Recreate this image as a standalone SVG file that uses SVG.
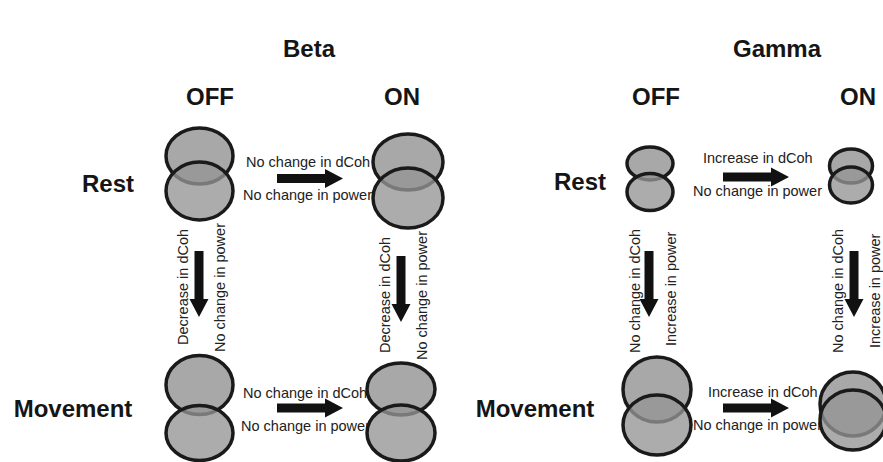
<svg xmlns="http://www.w3.org/2000/svg" width="883" height="462" viewBox="0 0 883 462">
<style>
.title{font-family:"Liberation Sans",Arial,sans-serif;font-weight:bold;font-size:24px;fill:#151515;text-anchor:middle}
.lbl{font-family:"Liberation Sans",Arial,sans-serif;font-size:14.5px;fill:#222}
.top{fill:#a8a8a8;stroke:#1a1a1a;stroke-width:3.5}
.bot{fill:#959595;fill-opacity:0.78;stroke:#1a1a1a;stroke-width:3.5}
.arr{fill:#111}
</style>
<defs>
<path id="blk" d="M0,-4.5 H48 V-9.5 L66,0 L48,9.5 V4.5 H0 Z"/>
</defs>
<rect width="883" height="462" fill="#fff"/>
<g id="headers">
<text class="title" x="309" y="57">Beta</text>
<text class="title" x="777" y="57">Gamma</text>
<text class="title" x="210" y="105">OFF</text>
<text class="title" x="402" y="105">ON</text>
<text class="title" x="656" y="105">OFF</text>
<text class="title" x="858" y="105">ON</text>
<text class="title" x="108" y="192">Rest</text>
<text class="title" x="73" y="417">Movement</text>
<text class="title" x="580" y="190">Rest</text>
<text class="title" x="535" y="417">Movement</text>
</g>
<g id="connectors">
<g class="arr">
<use href="#blk" transform="translate(277,178.5)"/>
<use href="#blk" transform="translate(277,408)"/>
<use href="#blk" transform="translate(723,177)"/>
<use href="#blk" transform="translate(723,408)"/>
<use href="#blk" transform="translate(199,251) rotate(90)"/>
<use href="#blk" transform="translate(401,256) rotate(90)"/>
<use href="#blk" transform="translate(649,251) rotate(90)"/>
<use href="#blk" transform="translate(854,251) rotate(90)"/>
</g>
<g class="lbl">
<text x="246" y="167">No change in dCoh</text>
<text x="243" y="200">No change in power</text>
<text x="243" y="398">No change in dCoh</text>
<text x="241" y="431">No change in power</text>
<text x="703" y="163">Increase in dCoh</text>
<text x="693" y="196">No change in power</text>
<text x="708" y="397">Increase in dCoh</text>
<text x="693" y="430">No change in power</text>
<text transform="translate(188,345) rotate(-90)">Decrease in dCoh</text>
<text transform="translate(225,352) rotate(-90)">No change in power</text>
<text transform="translate(390,353) rotate(-90)">Decrease in dCoh</text>
<text transform="translate(427,360) rotate(-90)">No change in power</text>
<text transform="translate(640,353) rotate(-90)">No change in dCoh</text>
<text transform="translate(676,346) rotate(-90)">Increase in power</text>
<text transform="translate(843,353) rotate(-90)">No change in dCoh</text>
<text transform="translate(880,348) rotate(-90)">Increase in power</text>
</g>
</g>
<g id="beta-off-rest">
<ellipse class="top" cx="199.5" cy="156" rx="33.5" ry="28"/>
<ellipse class="bot" cx="199.5" cy="191" rx="33.5" ry="29"/>
</g>
<g id="beta-on-rest">
<ellipse class="top" cx="408" cy="162" rx="35" ry="28"/>
<ellipse class="bot" cx="408" cy="198" rx="35" ry="30"/>
</g>
<g id="beta-off-movement">
<ellipse class="top" cx="199.5" cy="385" rx="33.5" ry="29.5"/>
<ellipse class="bot" cx="199.5" cy="433" rx="33.5" ry="27.5"/>
</g>
<g id="beta-on-movement">
<ellipse class="top" cx="401" cy="389" rx="34" ry="26"/>
<ellipse class="bot" cx="401" cy="433" rx="34" ry="28"/>
</g>
<g id="gamma-off-rest">
<ellipse class="top" cx="650" cy="163.5" rx="23" ry="16.5"/>
<ellipse class="bot" cx="650" cy="192" rx="23" ry="18.5"/>
</g>
<g id="gamma-on-rest">
<ellipse class="top" cx="851" cy="166" rx="21.5" ry="17"/>
<ellipse class="bot" cx="851" cy="185" rx="21.5" ry="18"/>
</g>
<g id="gamma-off-movement">
<ellipse class="top" cx="657" cy="389.5" rx="34" ry="32.5"/>
<ellipse class="bot" cx="657" cy="425" rx="34" ry="30"/>
</g>
<g id="gamma-on-movement">
<ellipse class="top" cx="853" cy="404" rx="33" ry="32"/>
<ellipse class="bot" cx="853" cy="420" rx="33" ry="30"/>
</g>
</svg>
